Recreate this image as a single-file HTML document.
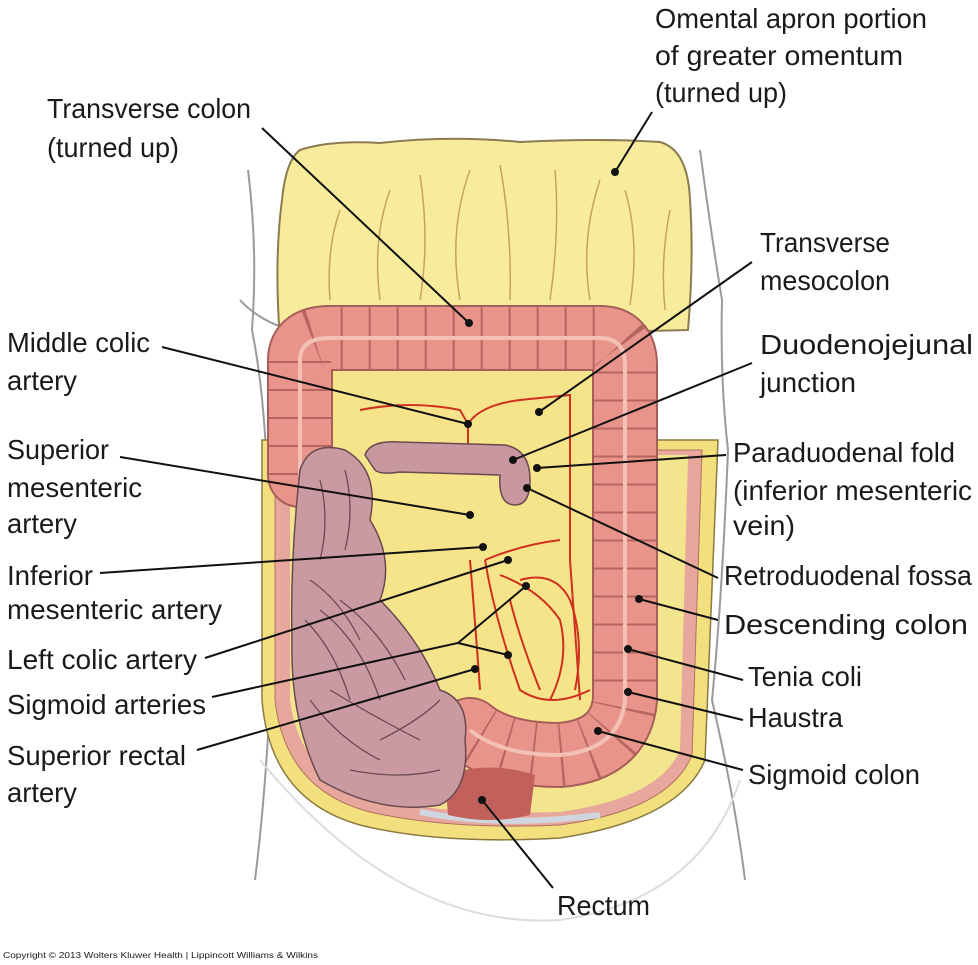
<!DOCTYPE html>
<html><head><meta charset="utf-8"><style>
html,body{margin:0;padding:0;background:#fff;}
svg{display:block;}
text{font-family:"Liberation Sans Narrow","Liberation Sans",sans-serif;font-size:28px;fill:#1a1a1a;}
</style></head><body>
<svg width="978" height="965" viewBox="0 0 978 965" xmlns="http://www.w3.org/2000/svg">
<!-- body outline -->
<g fill="none" stroke="#9a9a9a" stroke-width="2">
<path d="M248 170 Q258 250 252 330 Q262 380 266 450"/>
<path d="M700 150 Q712 240 722 300 Q720 380 728 450 Q722 600 712 700 Q735 800 745 880"/>
<path d="M240 300 Q258 320 290 330"/>
<path d="M270 700 Q265 800 255 880"/>
<path d="M260 760 Q400 930 560 920 Q700 900 740 780" stroke="#ddd"/>
</g>
<!-- abdominal wall -->
<path d="M262 440 L262 700 Q270 800 360 825 Q440 845 560 838 Q680 820 705 760 L718 440 Z" fill="#f2e07e" stroke="#8a7a40" stroke-width="1.5"/>
<path d="M275 450 L275 700 Q285 790 370 812 Q450 830 560 825 Q670 810 692 755 L702 450 Z" fill="#e8a79c" stroke="#b07060" stroke-width="1"/>
<path d="M290 455 L290 700 Q300 780 380 800 Q450 815 560 812 Q660 798 680 750 L688 455 Z" fill="#f3e48e"/>
<path d="M420 812 Q500 828 600 815" stroke="#cfd6e0" stroke-width="6" fill="none"/>
<!-- omentum -->
<path d="M300 150 Q330 140 380 143 Q450 135 520 142 Q600 138 660 142 Q688 150 690 200 Q694 260 688 330 L280 340 Q274 260 282 200 Q286 160 300 150 Z" fill="#f7ec9c" stroke="#8c7a50" stroke-width="2"/>
<g stroke="#c9a060" stroke-width="1.5" fill="none">
<path d="M330 300 Q326 250 340 210"/><path d="M380 300 Q372 240 390 190"/><path d="M420 300 Q430 240 420 175"/>
<path d="M460 300 Q448 230 470 170"/><path d="M510 300 Q512 230 500 165"/><path d="M550 300 Q560 230 555 170"/>
<path d="M590 300 Q580 240 600 180"/><path d="M630 305 Q640 240 625 190"/><path d="M665 310 Q660 260 670 210"/>
</g>
<!-- mesentery -->
<path d="M330 365 L600 365 Q605 500 595 720 Q520 730 460 700 L420 640 L330 520 Z" fill="#f5e48a"/>
<!-- arteries -->
<g stroke="#d03020" stroke-width="2" fill="none">
<path d="M360 410 Q410 400 460 410 L468 424 Q480 405 520 400 L570 395 L570 560 L580 700"/>
<path d="M468 424 L468 445"/>
<path d="M485 560 Q520 545 560 540"/>
<path d="M485 560 Q495 620 520 690 Q550 710 590 690"/>
<path d="M500 575 Q540 590 560 620 Q570 660 550 700"/>
<path d="M510 600 Q520 640 540 690"/>
<path d="M520 580 Q555 570 570 600 Q585 640 575 690"/>
<path d="M470 560 Q475 620 480 690"/>
</g>
<!-- colon -->
<g fill="none" stroke-linejoin="round">
<path d="M300 475 L300 360 Q300 338 330 338 L600 338 Q625 338 625 365 L625 700 Q620 750 560 755 Q500 755 470 730" stroke="#a85e58" stroke-width="66" stroke-linecap="round"/>
<path d="M300 475 L300 360 Q300 338 330 338 L600 338 Q625 338 625 365 L625 700 Q620 750 560 755 Q500 755 470 730" stroke="#e8948a" stroke-width="62" stroke-linecap="round"/>
<path d="M300 475 L300 360 Q300 338 330 338 L600 338 Q625 338 625 365 L625 700 Q620 750 560 755 Q500 755 470 730" stroke="#b5675f" stroke-width="62" stroke-dasharray="2 26" stroke-linecap="butt"/>
<path d="M300 475 L300 360 Q300 338 330 338 L600 338 Q625 338 625 365 L625 700 Q620 750 560 755 Q500 755 470 730" stroke="#f2c0b4" stroke-width="4"/>
</g>
<path d="M445 775 Q490 760 535 775 L530 815 Q490 825 448 815 Z" fill="#c2615c"/>
<!-- duodenum -->
<path d="M365 455 Q370 440 400 442 L505 445 Q530 450 530 480 Q530 505 515 505 Q498 505 500 475 L400 472 Q380 475 375 470 Z" fill="#c9979f" stroke="#6a4a50" stroke-width="1.5"/>
<!-- small intestine -->
<path d="M300 470 Q310 440 345 450 Q380 470 370 520 Q395 560 380 600 Q420 640 440 690 Q470 700 465 740 Q470 790 440 805 Q380 815 320 780 Q290 720 292 640 Q290 560 300 470 Z" fill="#c99aa2" stroke="#6a4a50" stroke-width="1.5"/>
<g stroke="#6a4a50" stroke-width="1.3" fill="none">
<path d="M320 480 Q330 520 320 560"/><path d="M345 470 Q355 510 345 550"/><path d="M310 580 Q340 600 360 640"/>
<path d="M305 620 Q335 650 350 700"/><path d="M320 610 Q360 640 380 700"/><path d="M340 600 Q380 630 405 680"/>
<path d="M310 700 Q340 740 380 760"/><path d="M330 690 Q380 720 420 740"/><path d="M350 770 Q400 780 440 770"/>
<path d="M380 740 Q420 720 440 700"/>
</g>
<!-- leader lines -->
<g stroke="#111" stroke-width="2" fill="none">
<path d="M652 112 L615 172"/><path d="M262 128 L469 323"/><path d="M752 262 L539 412"/>
<path d="M162 347 L468 424"/><path d="M752 363 L513 460"/><path d="M120 457 L470 515"/>
<path d="M726 455 L537 468"/><path d="M100 573 L483 547"/><path d="M718 578 L527 488"/>
<path d="M718 620 L639 599"/><path d="M205 658 L508 560"/><path d="M743 680 L628 649"/>
<path d="M212 697 L458 643 L526 586 M458 643 L508 655"/><path d="M743 720 L628 692"/>
<path d="M197 750 L475 669"/><path d="M743 770 L598 731"/><path d="M553 888 L482 800"/>
</g>
<g fill="#111">
<circle cx="615" cy="172" r="4"/><circle cx="469" cy="323" r="4"/><circle cx="539" cy="412" r="4"/>
<circle cx="468" cy="424" r="4"/><circle cx="513" cy="460" r="4"/><circle cx="470" cy="515" r="4"/>
<circle cx="537" cy="468" r="4"/><circle cx="483" cy="547" r="4"/><circle cx="527" cy="488" r="4"/>
<circle cx="639" cy="599" r="4"/><circle cx="508" cy="560" r="4"/><circle cx="628" cy="649" r="4"/>
<circle cx="526" cy="586" r="4"/><circle cx="508" cy="655" r="4"/><circle cx="628" cy="692" r="4"/>
<circle cx="475" cy="669" r="4"/><circle cx="598" cy="731" r="4"/><circle cx="482" cy="800" r="4"/>
</g>
<!-- labels -->
<g lengthAdjust="spacingAndGlyphs">
<text x="655" y="28" textLength="272" lengthAdjust="spacingAndGlyphs">Omental apron portion</text>
<text x="655" y="65" textLength="248" lengthAdjust="spacingAndGlyphs">of greater omentum</text>
<text x="655" y="102" textLength="132" lengthAdjust="spacingAndGlyphs">(turned up)</text>
<text x="47" y="118" textLength="204" lengthAdjust="spacingAndGlyphs">Transverse colon</text>
<text x="47" y="157" textLength="132" lengthAdjust="spacingAndGlyphs">(turned up)</text>
<text x="760" y="252" textLength="130" lengthAdjust="spacingAndGlyphs">Transverse</text>
<text x="760" y="290" textLength="130" lengthAdjust="spacingAndGlyphs">mesocolon</text>
<text x="7" y="352" textLength="143" lengthAdjust="spacingAndGlyphs">Middle colic</text>
<text x="7" y="390" textLength="70" lengthAdjust="spacingAndGlyphs">artery</text>
<text x="760" y="354" textLength="213" lengthAdjust="spacingAndGlyphs">Duodenojejunal</text>
<text x="760" y="392" textLength="96" lengthAdjust="spacingAndGlyphs">junction</text>
<text x="7" y="459" textLength="102" lengthAdjust="spacingAndGlyphs">Superior</text>
<text x="7" y="497" textLength="135" lengthAdjust="spacingAndGlyphs">mesenteric</text>
<text x="7" y="533" textLength="70" lengthAdjust="spacingAndGlyphs">artery</text>
<text x="733" y="462" textLength="222" lengthAdjust="spacingAndGlyphs">Paraduodenal fold</text>
<text x="733" y="500" textLength="239" lengthAdjust="spacingAndGlyphs">(inferior mesenteric</text>
<text x="733" y="535" textLength="62" lengthAdjust="spacingAndGlyphs">vein)</text>
<text x="7" y="585" textLength="86" lengthAdjust="spacingAndGlyphs">Inferior</text>
<text x="7" y="619" textLength="215" lengthAdjust="spacingAndGlyphs">mesenteric artery</text>
<text x="724" y="585" textLength="248" lengthAdjust="spacingAndGlyphs">Retroduodenal fossa</text>
<text x="724" y="634" textLength="244" lengthAdjust="spacingAndGlyphs">Descending colon</text>
<text x="7" y="669" textLength="190" lengthAdjust="spacingAndGlyphs">Left colic artery</text>
<text x="748" y="686" textLength="114" lengthAdjust="spacingAndGlyphs">Tenia coli</text>
<text x="7" y="714" textLength="199" lengthAdjust="spacingAndGlyphs">Sigmoid arteries</text>
<text x="748" y="727" textLength="95" lengthAdjust="spacingAndGlyphs">Haustra</text>
<text x="7" y="765" textLength="179" lengthAdjust="spacingAndGlyphs">Superior rectal</text>
<text x="7" y="802" textLength="70" lengthAdjust="spacingAndGlyphs">artery</text>
<text x="748" y="784" textLength="172" lengthAdjust="spacingAndGlyphs">Sigmoid colon</text>
<text x="557" y="915" textLength="93" lengthAdjust="spacingAndGlyphs">Rectum</text>
<text x="3" y="958" style="font-size:8px;font-family:'Liberation Sans',sans-serif" textLength="315" lengthAdjust="spacingAndGlyphs">Copyright © 2013 Wolters Kluwer Health | Lippincott Williams &amp; Wilkins</text>
</g>
</svg>
</body></html>
